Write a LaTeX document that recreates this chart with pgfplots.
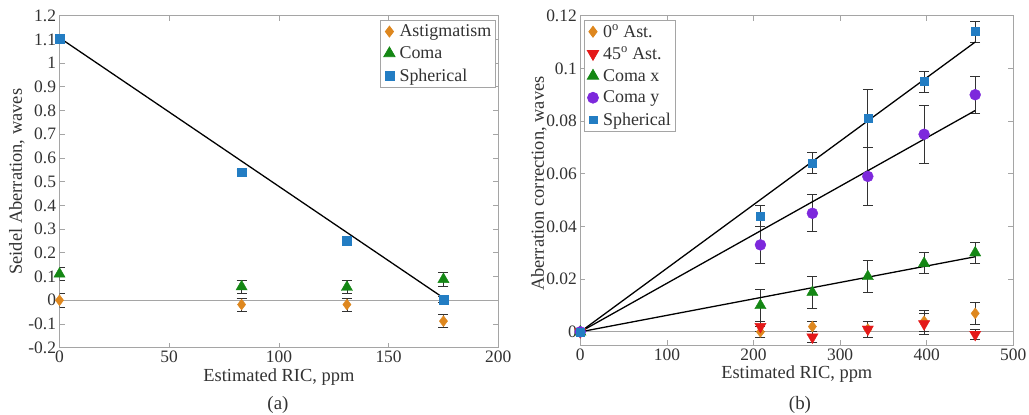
\documentclass[border=0pt]{standalone}
\usepackage{fontspec}
\setmainfont{Liberation Serif}
\usepackage{pgfplots}
\pgfplotsset{compat=1.18}

\definecolor{axgray}{RGB}{165,165,165}
\definecolor{txtgray}{RGB}{50,50,50}
\definecolor{astorange}{RGB}{222,135,30}
\definecolor{comagreen}{RGB}{20,135,20}
\definecolor{spherblue}{RGB}{35,125,195}
\definecolor{astred}{RGB}{228,25,25}
\definecolor{comapurple}{RGB}{125,40,220}

\pgfplotsset{
  panel/.style={
    scale only axis,
    axis line style={axgray, line width=0.8pt},
    tick style={axgray, line width=0.8pt},
    tick align=inside,
    major tick length=5bp,
    ticklabel style={font=\fontsize{17.5}{20}\selectfont, text=txtgray},
    label style={font=\fontsize{18.5}{21}\selectfont, text=txtgray},
    /pgf/number format/assume math mode=true,
    scaled ticks=false,
    legend cell align=left,
    legend style={draw=axgray, fill=white, line width=0.8pt,
      font=\fontsize{18}{21}\selectfont, text=txtgray,
      inner sep=3bp, row sep=5.5bp, column sep=3bp,
      nodes={inner sep=1.5bp}},
    xlabel style={at={(axis description cs:0.5,0)}, anchor=north, inner sep=0pt, yshift=-21bp},
  },
  ebar/.style={
    only marks,
    error bars/y dir=both,
    error bars/y explicit,
    error bars/error bar style={txtgray, line width=0.8pt},
    error bars/error mark options={txtgray, line width=0.8pt, mark size=5bp, rotate=90},
  },
}

\begin{document}
\begin{tikzpicture}
\useasboundingbox (0,0) rectangle (1029bp,415bp);

% (a) Seidel aberration against RIC
\begin{axis}[panel,
  at={(59.5bp,67.3bp)}, anchor=south west,
  width=438.8bp, height=332bp,
  xmin=0, xmax=200, ymin=-0.2, ymax=1.2,
  xtick={0,50,100,150,200},
  ytick={-0.2,-0.1,0,0.1,0.2,0.3,0.4,0.5,0.6,0.7,0.8,0.9,1,1.1,1.2},
  yticklabels={-0.2,-0.1,0,0.1,0.2,0.3,0.4,0.5,0.6,0.7,0.8,0.9,1,1.1,1.2},
  xlabel={Estimated RIC, ppm},
  ylabel={Seidel Aberration, waves},
  ylabel style={at={(axis description cs:-0.0969,0.5)}, anchor=center, rotate=0},
  legend style={at={(0.995,0.987)}, anchor=north east},
]
\addplot[forget plot, axgray, line width=0.8pt] coordinates {(0,0) (200,0)};
\addplot[ebar, mark=diamond*, mark size=5.5, color=astorange] coordinates {
  (0,0.000) +- (0,0.028)
  (83,-0.018) +- (0,0.028)
  (131,-0.018) +- (0,0.028)
  (175,-0.088) +- (0,0.028)
};
\addlegendentry{Astigmatism}
\addplot[ebar, mark=triangle*, mark size=6.5, color=comagreen] coordinates {
  (0,0.111) +- (0,0.027)
  (83,0.057) +- (0,0.027)
  (131,0.055) +- (0,0.027)
  (175,0.088) +- (0,0.028)
};
\addlegendentry{Coma}
\addplot[ebar, mark=square*, mark size=4.5, color=spherblue] coordinates {
  (0,1.103) +- (0,0.010)
  (83,0.540) +- (0,0.012)
  (131,0.253) +- (0,0.012)
  (175,0.003) +- (0,0.012)
};
\addlegendentry{Spherical}
\addplot[forget plot, black, line width=1.3pt] coordinates {(0,1.107) (175,0.010)};
\end{axis}

% (b) aberration correction against RIC
\begin{axis}[panel,
  at={(580.3bp,70bp)}, anchor=south west,
  width=433bp, height=329.3bp,
  xmin=0, xmax=500, ymin=-0.005, ymax=0.12,
  xtick={0,100,200,300,400,500},
  ytick={0,0.02,0.04,0.06,0.08,0.1,0.12},
  yticklabels={0,0.02,0.04,0.06,0.08,0.1,0.12},
  xlabel={Estimated RIC, ppm},
  ylabel={Aberration correction, waves},
  ylabel style={at={(axis description cs:-0.0954,0.49)}, anchor=center, rotate=0},
  legend style={at={(0.0085,0.987)}, anchor=north west},
]
\addplot[forget plot, axgray, line width=0.8pt] coordinates {(0,0) (500,0)};
\addplot[ebar, mark=diamond*, mark size=5.5, color=astorange] coordinates {
  (0,0) +- (0,0)
  (208,0.000) +- (0,0.002)
  (268,0.002) +- (0,0.002)
  (332,0.001) +- (0,0.003)
  (397,0.004) +- (0,0.004)
  (456,0.007) +- (0,0.004)
};
\addlegendentry{0\textsuperscript{o} Ast.}
\addplot[ebar, mark=triangle*, mark size=6.5, mark options={rotate=180}, color=astred] coordinates {
  (0,0) +- (0,0)
  (208,0.002) +- (0,0.002)
  (268,-0.002) +- (0,0.002)
  (332,0.001) +- (0,0.003)
  (397,0.003) +- (0,0.004)
  (456,-0.001) +- (0,0.002)
};
\addlegendentry{45\textsuperscript{o} Ast.}
\addplot[ebar, mark=triangle*, mark size=6.5, color=comagreen] coordinates {
  (0,0) +- (0,0)
  (208,0.010) +- (0,0.006)
  (268,0.015) +- (0,0.006)
  (332,0.021) +- (0,0.006)
  (397,0.026) +- (0,0.004)
  (456,0.030) +- (0,0.004)
};
\addlegendentry{Coma x}
\addplot[ebar, mark=*, mark size=5.5, color=comapurple] coordinates {
  (0,0) +- (0,0)
  (208,0.033) +- (0,0.007)
  (268,0.045) +- (0,0.007)
  (332,0.059) +- (0,0.011)
  (397,0.075) +- (0,0.011)
  (456,0.090) +- (0,0.007)
};
\addlegendentry{Coma y}
\addplot[ebar, mark=square*, mark size=4, color=spherblue] coordinates {
  (0,0) +- (0,0)
  (208,0.044) +- (0,0.004)
  (268,0.064) +- (0,0.004)
  (332,0.081) +- (0,0.011)
  (397,0.095) +- (0,0.004)
  (456,0.114) +- (0,0.004)
};
\addlegendentry{Spherical}
\addplot[forget plot, black, line width=1.3pt] coordinates {(0,0) (456,0.110)};
\addplot[forget plot, black, line width=1.3pt] coordinates {(0,0) (456,0.084)};
\addplot[forget plot, black, line width=1.3pt] coordinates {(0,0) (456,0.0285)};
\end{axis}

\node[font=\fontsize{19}{22}\selectfont, text=txtgray] at (278bp,10bp) {(a)};
\node[font=\fontsize{19}{22}\selectfont, text=txtgray] at (800bp,10bp) {(b)};
\end{tikzpicture}
\end{document}
